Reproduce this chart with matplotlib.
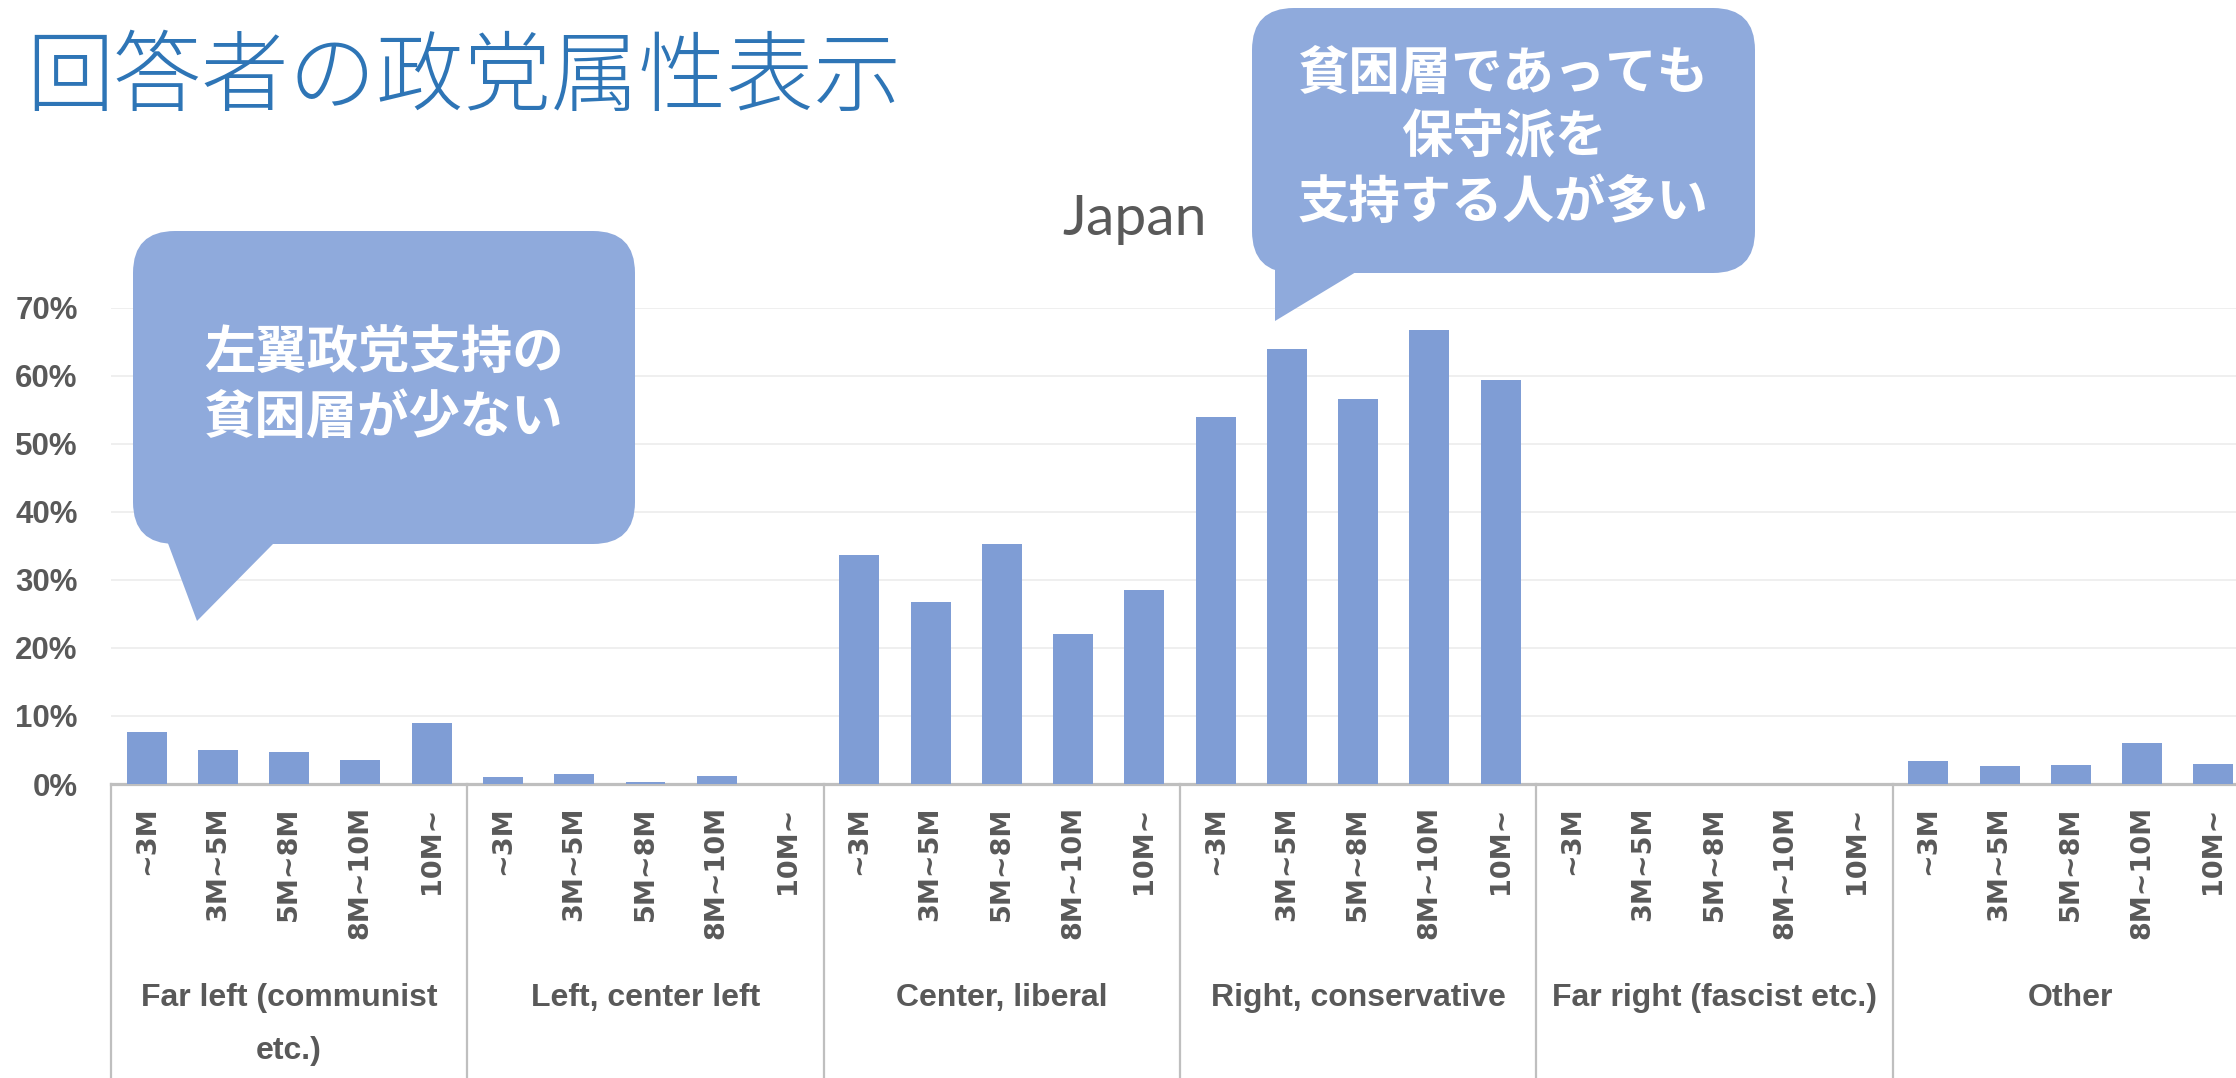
import matplotlib
matplotlib.use("Agg")
import matplotlib.pyplot as plt
import matplotlib.transforms as mtransforms
from matplotlib.patches import FancyBboxPatch, Polygon
import numpy as np

# data (share of respondents, by party and household income)
parties = ["Far left (communist\netc.)", "Left, center left", "Center, liberal",
           "Right, conservative", "Far right (fascist etc.)", "Other"]
incomes = ["~3M", "3M~5M", "5M~8M", "8M~10M", "10M~"]
far_left = [0.077, 0.0495, 0.0475, 0.0358, 0.090]
left = [0.0109, 0.0147, 0.003, 0.0113, 0.0]
center = [0.336, 0.268, 0.353, 0.221, 0.285]
right = [0.539, 0.639, 0.566, 0.667, 0.593]
far_right = [0.0, 0.0, 0.0, 0.0, 0.0]
other = [0.0344, 0.0265, 0.0275, 0.0609, 0.0294]

title = "回答者の政党属性表示"
chart_title = "Japan"
note_left = ["左翼政党支持の", "貧困層が少ない"]
note_right = ["貧困層であっても", "保守派を", "支持する人が多い"]

BAR = "#7F9DD5"
BUBBLE = "#8FAADC"
GREY = "#595959"
AXIS = "#BFBFBF"
CJK = ["Noto Sans CJK JP", "DejaVu Sans"]

W, H = 2236, 1078
fig = plt.figure(figsize=(W / 100, H / 100), dpi=100)

# main bar axes (spills a little past the right edge like the original)
ax_l, ax_r, ax_b, ax_t = 111, 2249, 784, 307.5
ax = fig.add_axes([ax_l / W, (H - ax_b) / H, (ax_r - ax_l) / W, (ax_b - ax_t) / H])

values = far_left + left + center + right + far_right + other
n = len(values)
x = np.arange(n) + 0.5
ax.bar(x, values, width=0.56, color=BAR, zorder=3)

ax.set_xlim(0, n)
ax.set_ylim(0, 0.7)
ax.set_yticks(np.arange(0, 0.71, 0.1))
ax.set_yticklabels([f"{int(round(v * 100))}%" for v in np.arange(0, 0.71, 0.1)],
                   fontfamily="Liberation Sans", fontweight="bold", fontsize=22.5, color=GREY)
ax.grid(axis="y", color="#EEEEEE", lw=1.3, zorder=0)
ax.tick_params(axis="y", length=0, pad=24)
for s in ["top", "right", "left"]:
    ax.spines[s].set_visible(False)
ax.spines["bottom"].set_color(AXIS)
ax.spines["bottom"].set_linewidth(2.3)

ax.set_xticks(x)
ax.set_xticklabels(incomes * len(parties), rotation=90, fontfamily="DejaVu Sans",
                   fontweight="bold", fontsize=19.5, color=GREY)
ax.tick_params(axis="x", length=0, pad=16)

# group separators and party labels below the axis
trans = mtransforms.blended_transform_factory(ax.transData, ax.transAxes)
below = (ax_b - ax_t)
for g in range(len(parties) + 1):
    ax.plot([g * 5, g * 5], [0, -(H - ax_b + 10) / below], transform=trans,
            color=AXIS, lw=1.6, clip_on=False, zorder=1)
for g, name in enumerate(parties):
    for k, part in enumerate(name.split("\n")):
        ax.text(g * 5 + 2.5, -(998 + 53 * k - ax_b) / below, part, transform=trans,
                ha="center", va="center", fontfamily="Liberation Sans", fontweight="bold",
                fontsize=23, color=GREY)

# overlay in pixel coordinates for titles and callouts
ov = fig.add_axes([0, 0, 1, 1], zorder=5)
ov.set_xlim(0, W)
ov.set_ylim(H, 0)
ov.axis("off")
ov.patch.set_alpha(0)

ov.text(26, 79, title, ha="left", va="center", fontfamily=CJK, fontsize=63,
        color="#2E75B6", fontweight="light")
ov.text(1135, 235, chart_title, ha="center", va="baseline", fontfamily=["Lato", "DejaVu Sans"],
        fontsize=41, color=GREY)

def bubble(x0, y0, x1, y1, pointer, lines, y_first, step):
    ov.add_patch(FancyBboxPatch((x0, y0), x1 - x0, y1 - y0,
                                boxstyle="round,pad=0,rounding_size=42",
                                fc=BUBBLE, ec="none", zorder=2))
    ov.add_patch(Polygon(pointer, closed=True, fc=BUBBLE, ec="none", zorder=2))
    cx = (x0 + x1) / 2
    for i, line in enumerate(lines):
        ov.text(cx, y_first + i * step, line, ha="center", va="center", fontfamily=CJK,
                fontweight="bold", fontsize=37, color="white", zorder=3)

bubble(133, 231, 635, 544,
       [(150, 500), (166, 538), (197, 621), (273, 544), (280, 500)],
       note_left, 352, 65)
bubble(1252, 8, 1755, 273,
       [(1275, 230), (1275, 321), (1356, 272), (1356, 230)],
       note_right, 73, 64.5)

fig.savefig("out.png", dpi=100)
